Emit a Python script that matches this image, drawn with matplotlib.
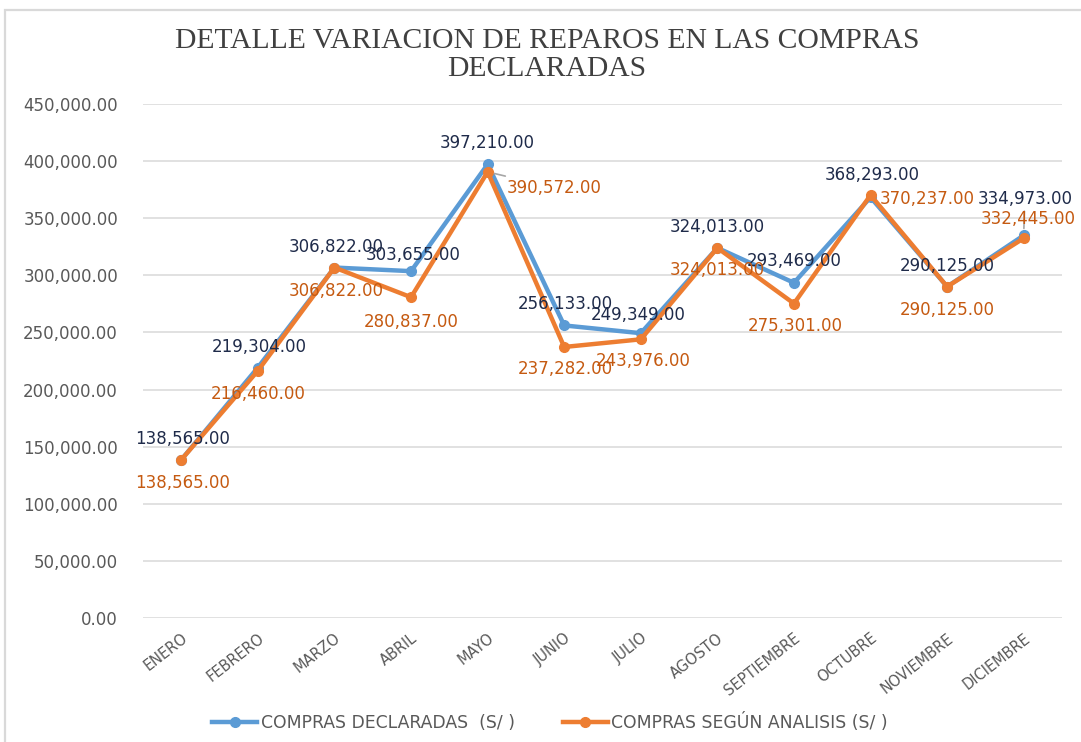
"""Detalle variacion de reparos en las compras declaradas (line chart with data labels)."""

import matplotlib
matplotlib.use("Agg")
import matplotlib.pyplot as plt
from matplotlib.patches import Rectangle
from matplotlib.ticker import FuncFormatter
from matplotlib.transforms import ScaledTranslation

# data
meses = ["ENERO", "FEBRERO", "MARZO", "ABRIL", "MAYO", "JUNIO", "JULIO",
         "AGOSTO", "SEPTIEMBRE", "OCTUBRE", "NOVIEMBRE", "DICIEMBRE"]
compras_declaradas = [138565, 219304, 306822, 303655, 397210, 256133,
                      249349, 324013, 293469, 368293, 290125, 334973]
compras_analisis = [138565, 216460, 306822, 280837, 390572, 237282,
                    243976, 324013, 275301, 370237, 290125, 332445]
y_ticks = [0, 50000, 100000, 150000, 200000, 250000, 300000, 350000, 400000, 450000]

# label offsets in pixels (dx, dy with dy positive = down)
off_decl = [(1, -21), (1, -21), (2, -21), (2, -16), (0, -21), (1, -21),
            (-3, -18), (0, -21), (0, -22), (2, -22), (0, -21), (1, -36)]
off_anal = [(1, 23), (0, 23), (2, 23), (0, 25), (67, 16), (1, 22),
            (2, 22), (0, 22), (1, 22), (57, 4), (0, 23), (4, -19)]
leader_decl = [False] * 11 + [True]
leader_anal = [False, False, False, False, True] + [False] * 7

BLUE = "#5B9BD5"
ORANGE = "#ED7D31"
BLUE_TXT = "#1F2B4A"
ORANGE_TXT = "#C55A11"
GRAY_TXT = "#595959"
NARROW = ["Liberation Sans Narrow", "DejaVu Sans"]

fig = plt.figure(figsize=(10.81, 7.42), dpi=100)
fig.patches.append(Rectangle((5 / 1081, -0.1), 1.2, 1 - 10 / 742 + 0.1,
                             transform=fig.transFigure, fill=False,
                             edgecolor="#D9D9D9", linewidth=1.6))
ax = fig.add_axes([143 / 1081, 1 - 618 / 742, (1062 - 143) / 1081, (618 - 104) / 742])

x = list(range(len(meses)))
ax.plot(x, compras_declaradas, color=BLUE, lw=3.2, marker="o", ms=7,
        solid_joinstyle="round", label="COMPRAS DECLARADAS  (S/ )", zorder=3)
ax.plot(x, compras_analisis, color=ORANGE, lw=3.2, marker="o", ms=7,
        solid_joinstyle="round", label="COMPRAS SEGÚN ANALISIS (S/ )", zorder=4)


def put_labels(values, offsets, leaders, color):
    for i, v in enumerate(values):
        dx, dy = offsets[i]
        arrow = None
        if leaders[i]:
            arrow = dict(arrowstyle="-", color="#A6A6A6", lw=1.2, shrinkA=0, shrinkB=5)
        ax.annotate(f"{v:,.2f}", (i, v), xytext=(dx, -dy), textcoords="offset pixels",
                    ha="center", va="center", fontsize=12, color=color,
                    arrowprops=arrow, zorder=5)


put_labels(compras_declaradas, off_decl, leader_decl, BLUE_TXT)
put_labels(compras_analisis, off_anal, leader_anal, ORANGE_TXT)

ax.set_xlim(-0.5, len(meses) - 0.5)
ax.set_ylim(0, 450000)
ax.set_yticks(y_ticks)
ax.yaxis.set_major_formatter(FuncFormatter(lambda v, _: f"{v:,.2f}"))
ax.set_xticks(x)
ax.set_xticklabels(meses, rotation=38, ha="right", rotation_mode="anchor",
                   family=NARROW, fontsize=10.5, color=GRAY_TXT)
for lbl in ax.get_xticklabels():
    lbl.set_transform(lbl.get_transform() + ScaledTranslation(-0.05, 0, fig.dpi_scale_trans))
ax.tick_params(axis="y", length=0, pad=18, labelsize=12, labelcolor=GRAY_TXT)
ax.tick_params(axis="x", length=0, pad=9)
ax.grid(axis="y", color="#D9D9D9", lw=1.1)
ax.set_axisbelow(True)
for s in ax.spines.values():
    s.set_visible(False)

fig.text(547 / 1081, 1 - 55 / 742, "DETALLE VARIACION DE REPAROS EN LAS COMPRAS\nDECLARADAS",
         ha="center", va="center", fontsize=21.3, family="Liberation Serif",
         color="#404040", linespacing=1.1)

fig.legend(loc="center", bbox_to_anchor=(550 / 1081, 1 - 723 / 742), ncol=2,
           frameon=False, handlelength=2.6, columnspacing=2.8, handletextpad=0.2,
           prop={"family": NARROW, "size": 12.4}, labelcolor=GRAY_TXT)

fig.savefig("out.png", dpi=100)
